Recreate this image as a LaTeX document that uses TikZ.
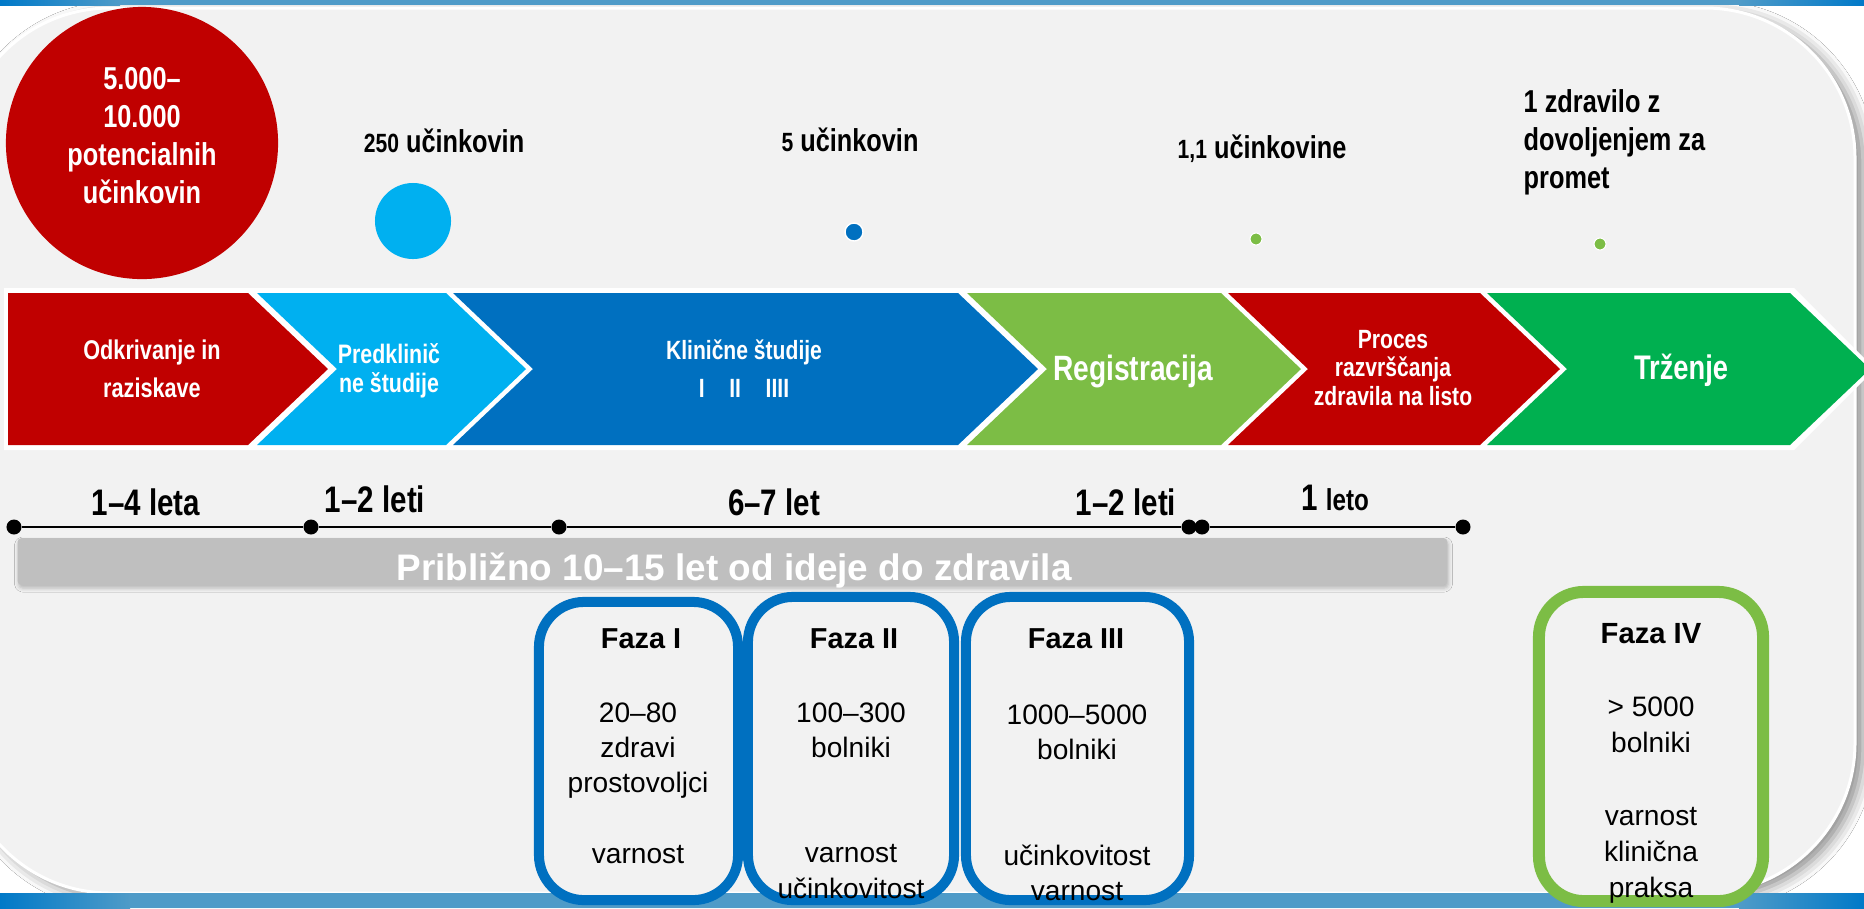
\documentclass[tikz,border=0pt]{standalone}
\usepackage{fontspec}
\setmainfont{Liberation Sans}
\newfontfamily\nar[FakeStretch=0.8]{Liberation Sans}
\usetikzlibrary{shadows.blur}
\definecolor{cred}{HTML}{C00000}
\definecolor{clblue}{HTML}{00B0F0}
\definecolor{cdblue}{HTML}{0070C0}
\definecolor{clgreen}{HTML}{7CBD45}
\definecolor{cgreen}{HTML}{00B050}
\definecolor{cpanel}{HTML}{F2F2F2}
\definecolor{cbarmid}{HTML}{4F9BC8}
\definecolor{cbarend}{HTML}{0079C8}
\definecolor{cgraybar}{HTML}{BFBFBF}
\tikzset{
  wl/.style={text=white, inner sep=0pt, anchor=base, align=center},
  bl/.style={text=black, inner sep=0pt, anchor=base, align=center},
  tdot/.style={circle, fill=black, inner sep=0pt, minimum size=0.15cm},
  gdot/.style={circle, fill=clgreen, draw=white, line width=0.3pt, inner sep=0pt, minimum size=0.12cm},
  fazabox/.style={rectangle, rounded corners=0.45cm, fill=cpanel, inner sep=0pt},
}
\begin{document}
\begin{tikzpicture}[x=0.01cm, y=-0.01cm]
\useasboundingbox (0,0) rectangle (1864,908);
\clip (0,0) rectangle (1864,908);
\fill[white] (0,0) rectangle (1864,908);
% panel
\path[fill=cpanel, draw=white, line width=0.03cm, rounded corners=1.5cm,
  blur shadow={shadow xshift=0.08cm, shadow yshift=-0.05cm, shadow blur radius=0.12cm, shadow opacity=45}]
  (-40,8) rectangle (1855,893);
% top bar
\fill[left color=cbarend, right color=cbarmid] (0,0) rectangle (120,5);
\fill[cbarmid] (119,0) rectangle (1740,5);
\fill[left color=cbarmid, right color=cbarend] (1739,0) rectangle (1864,5);
% bottom bar
\fill[left color=cbarend, right color=cbarmid] (0,893) rectangle (130,908);
\fill[cbarmid] (129,893) rectangle (1740,908);
\fill[left color=cbarmid, right color=cbarend] (1739,893) rectangle (1864,908);

% big red circle
\node[circle, fill=cred, inner sep=0pt, minimum size=2.72cm] (big) at (142,143) {};
\node[wl, font=\nar\bfseries\fontsize{9}{10.8}\selectfont] (bigt) at (142,203)
  {5.000–\\10.000\\potencialnih\\učinkovin};
% light blue circle
\node[circle, fill=clblue, inner sep=0pt, minimum size=0.76cm] (lbc) at (413,221) {};
\node[bl, font=\nar\bfseries\fontsize{9}{10.8}\selectfont] (t250) at (444,152)
  {{\fontsize{7.5}{9}\selectfont 250} učinkovin};
% dark blue dot
\node[circle, fill=cdblue, draw=white, line width=0.4pt, inner sep=0pt, minimum size=0.18cm] (dbd) at (854,232) {};
\node[bl, font=\nar\bfseries\fontsize{9}{10.8}\selectfont] (t5) at (850,151)
  {{\fontsize{7.5}{9}\selectfont 5} učinkovin};
% green dots
\node[gdot] (gd1) at (1256,239) {};
\node[bl, font=\nar\bfseries\fontsize{9}{10.8}\selectfont] (t11) at (1262,158)
  {{\fontsize{7.5}{9}\selectfont 1,1} učinkovine};
\node[gdot] (gd2) at (1600,244) {};
\node[bl, anchor=base west, align=left, font=\nar\bfseries\fontsize{9}{10.8}\selectfont] (t1z) at (1523,188)
  {1 zdravilo z\\dovoljenjem za\\promet};

% white band behind arrows
\fill[white] (4,288) -- (1794,288) -- (1875,369) -- (1794,450) -- (4,450) -- cycle;
% chevrons
\fill[cred]    (8,293) -- (248,293) -- (328,369) -- (248,445) -- (8,445) -- cycle;
\fill[clblue]  (257,293) -- (446,293) -- (526,369) -- (446,445) -- (257,445) -- (337,369) -- cycle;
\fill[cdblue]  (453,293) -- (958,293) -- (1038,369) -- (958,445) -- (453,445) -- (533,369) -- cycle;
\fill[clgreen] (967,293) -- (1221,293) -- (1301,369) -- (1221,445) -- (967,445) -- (1047,369) -- cycle;
\fill[cred]    (1228,293) -- (1480,293) -- (1560,369) -- (1480,445) -- (1228,445) -- (1308,369) -- cycle;
\fill[cgreen]  (1487,293) -- (1790,293) -- (1870,369) -- (1790,445) -- (1487,445) -- (1567,369) -- cycle;
% chevron labels
\node[wl, font=\nar\bfseries\fontsize{7.7}{10.8}\selectfont] (a1) at (152,397) {Odkrivanje in\\raziskave};
\node[wl, font=\nar\bfseries\fontsize{7.6}{8.25}\selectfont] (a2) at (389,392) {Predklinič\\ne študije};
\node[wl, font=\nar\bfseries\fontsize{7.5}{9}\selectfont] (a3) at (744,359) {Klinične študije};
\node[wl, font=\nar\bfseries\fontsize{7.5}{9}\selectfont] (a3b) at (744,397) {I\hspace{7pt}II\hspace{7pt}IIII};
\node[wl, font=\nar\bfseries\fontsize{10}{12}\selectfont] (a4) at (1133,380) {Registracija};
\node[wl, font=\nar\bfseries\fontsize{7.5}{8}\selectfont] (a5) at (1393,405) {Proces\\razvrščanja\\zdravila na listo};
\node[wl, font=\nar\bfseries\fontsize{9.7}{12}\selectfont] (a6) at (1681,379) {Trženje};

% timeline
\node[tdot] (d1) at (14,527) {};
\node[tdot] (d2) at (311,527) {};
\node[tdot] (d3) at (559,527) {};
\node[tdot] (d4) at (1189,527) {};
\node[tdot] (d5) at (1202,527) {};
\node[tdot] (d6) at (1463,527) {};
\draw[line width=0.02cm] (d1) -- (d2) -- (d3) -- (d4) -- (d5) -- (d6);
\node[bl, font=\nar\bfseries\fontsize{10.5}{12}\selectfont] (l1) at (146,515) {1–4 leta};
\node[bl, font=\nar\bfseries\fontsize{10.5}{12}\selectfont] (l2) at (375,512) {1–2 leti};
\node[bl, font=\nar\bfseries\fontsize{10.5}{12}\selectfont] (l3) at (774,515) {6–7 let};
\node[bl, font=\nar\bfseries\fontsize{10.5}{12}\selectfont] (l4) at (1126,515) {1–2 leti};
\node[bl, font=\nar\bfseries\fontsize{10.5}{12}\selectfont] (l5) at (1335,510) {1 {\fontsize{8.6}{10}\selectfont leto}};

% gray bar
\node[rectangle, fill=cgraybar, rounded corners=0.04cm, inner sep=0pt, minimum width=14.29cm, minimum height=0.47cm,
  blur shadow={shadow xshift=0.01cm, shadow yshift=-0.03cm, shadow blur radius=0.04cm, shadow opacity=25}] (gbar) at (732.5,561.5) {};
\node[wl, font=\bfseries\fontsize{10.5}{12}\selectfont] (gbt) at (734,580) {Približno 10–15 let od ideje do zdravila};

% phase boxes
\node[fazabox, draw=cdblue, line width=0.1cm, minimum width=1.99cm, minimum height=2.98cm] (f1) at (638.5,751) {};
\node[fazabox, draw=cdblue, line width=0.1cm, minimum width=2.06cm, minimum height=3.03cm] (f2) at (851,748.5) {};
\node[fazabox, draw=cdblue, line width=0.1cm, minimum width=2.23cm, minimum height=3.03cm] (f3) at (1077.5,748.5) {};
\node[fazabox, draw=clgreen, line width=0.12cm, minimum width=2.24cm, minimum height=3.09cm] (f4) at (1651,746.5) {};

\node[bl, font=\bfseries\fontsize{8.2}{10}\selectfont] (f1t) at (641,648) {Faza I};
\node[bl, font=\fontsize{8}{9.96}\selectfont] (f1b) at (638,863) {20–80\\zdravi\\prostovoljci\\[9.96pt]varnost};
\node[bl, font=\bfseries\fontsize{8.2}{10}\selectfont] (f2t) at (854,648) {Faza II};
\node[bl, font=\fontsize{8}{9.96}\selectfont] (f2b) at (851,898) {100–300\\bolniki\\[19.9pt]varnost\\učinkovitost};
\node[bl, font=\bfseries\fontsize{8.2}{10}\selectfont] (f3t) at (1076,648) {Faza III};
\node[bl, font=\fontsize{8}{9.96}\selectfont] (f3b) at (1077,900) {1000–5000\\bolniki\\[19.9pt]učinkovitost\\varnost};
\node[bl, font=\bfseries\fontsize{8.3}{10}\selectfont] (f4t) at (1651,643) {Faza IV};
\node[bl, font=\fontsize{8}{10.24}\selectfont] (f4b) at (1651,897) {> 5000\\bolniki\\[10.24pt]varnost\\klinična\\praksa};
\end{tikzpicture}
\end{document}
